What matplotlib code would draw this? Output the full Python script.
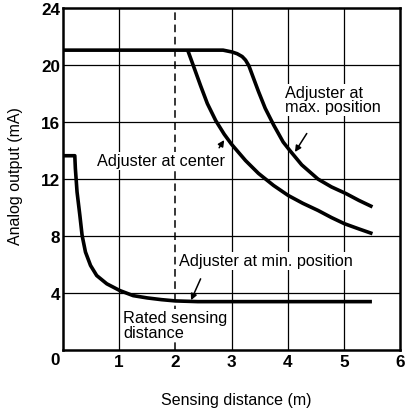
import matplotlib
matplotlib.use("Agg")
import matplotlib.pyplot as plt

plt.rcParams['font.family'] = ['Liberation Sans', 'DejaVu Sans']

# Data
max_x = [0.0, 2.85, 3.01, 3.10, 3.19, 3.25, 3.31, 3.39, 3.48, 3.60, 3.75, 3.92, 4.04, 4.25, 4.54, 4.78, 5.04, 5.27, 5.51]
max_y = [21.05, 21.05, 20.92, 20.8, 20.6, 20.35, 19.95, 19.1, 18.15, 16.97, 15.8, 14.6, 14.0, 13.0, 12.0, 11.45, 10.98, 10.5, 10.05]

center_x = [2.22, 2.34, 2.45, 2.57, 2.72, 2.87, 3.0, 3.25, 3.48, 3.75, 4.01, 4.27, 4.54, 4.78, 5.01, 5.27, 5.51]
center_y = [21.05, 19.75, 18.55, 17.3, 16.1, 15.15, 14.45, 13.3, 12.4, 11.55, 10.85, 10.3, 9.8, 9.3, 8.87, 8.5, 8.17]

min_x = [0.0, 0.21, 0.22, 0.25, 0.30, 0.34, 0.40, 0.49, 0.60, 0.78, 1.01, 1.25, 1.50, 1.75, 2.0, 2.4, 5.5]
min_y = [13.64, 13.64, 12.75, 11.1, 9.46, 8.05, 6.88, 5.94, 5.23, 4.65, 4.18, 3.82, 3.66, 3.54, 3.45, 3.4, 3.4]

rated_distance = 2.0
x_ticks = [1, 2, 3, 4, 5, 6]
y_ticks = [4, 8, 12, 16, 20, 24]

fig = plt.figure(figsize=(4.05, 4.14), dpi=100)
ax = fig.add_axes([63 / 405, 0.152, 337 / 405, 0.826])
ax.set_xlim(0, 6)
ax.set_ylim(0, 24)

# grid
for xv in x_ticks[:-1]:
    if xv == rated_distance:
        continue
    ax.axvline(xv, color='black', lw=0.9, zorder=1)
for yv in y_ticks[:-1]:
    ax.axhline(yv, color='black', lw=0.9, zorder=1)
ax.axvline(rated_distance, color='black', lw=1.1, ls=(0, (5, 3)), zorder=1)

# curves
for xs, ys in [(max_x, max_y), (center_x, center_y), (min_x, min_y)]:
    ax.plot(xs, ys, color='black', lw=2.6, zorder=3,
            solid_capstyle='butt', solid_joinstyle='round')

for s in ax.spines.values():
    s.set_linewidth(1.8)

ax.set_xticks(x_ticks)
ax.set_yticks(y_ticks)
ax.tick_params(axis='x', length=0, pad=3)
ax.tick_params(axis='y', length=0, pad=2)
for lab in ax.get_xticklabels() + ax.get_yticklabels():
    lab.set_fontweight('bold')
    lab.set_fontsize(12.3)
ax.text(-0.14, -0.65, '0', ha='center', va='center', fontsize=12.3, fontweight='bold')

ax.set_xlabel('Sensing distance (m)', fontsize=11.5)
ax.set_ylabel('Analog output (mA)', fontsize=11.5)
ax.xaxis.set_label_coords(0.515, -0.122)
ax.yaxis.set_label_coords(-0.12, 0.512)

bbox = dict(facecolor='white', edgecolor='none', pad=1.0)
fs = 11.7
ax.text(3.95, 18.6, 'Adjuster at\nmax. position', fontsize=fs, ha='left', va='top',
        linespacing=0.95, bbox=bbox, zorder=4)
ax.text(0.6, 13.3, 'Adjuster at center', fontsize=fs, ha='left', va='center',
        bbox=bbox, zorder=4)
ax.text(2.07, 6.27, 'Adjuster at min. position', fontsize=fs, ha='left', va='center',
        bbox=bbox, zorder=4)
ax.text(1.07, 2.8, 'Rated sensing\ndistance', fontsize=fs, ha='left', va='top',
        linespacing=0.95, bbox=bbox, zorder=4)

arrow = dict(arrowstyle='-|>', color='black', lw=1.1, mutation_scale=9,
             shrinkA=0, shrinkB=0)
ax.annotate('', xy=(4.13, 13.9), xytext=(4.34, 15.2), arrowprops=arrow, zorder=5)
ax.annotate('', xy=(2.87, 14.74), xytext=(2.78, 14.2), arrowprops=arrow, zorder=5)
ax.annotate('', xy=(2.28, 3.5), xytext=(2.45, 5.0), arrowprops=arrow, zorder=5)

fig.savefig('out.png', dpi=100)
